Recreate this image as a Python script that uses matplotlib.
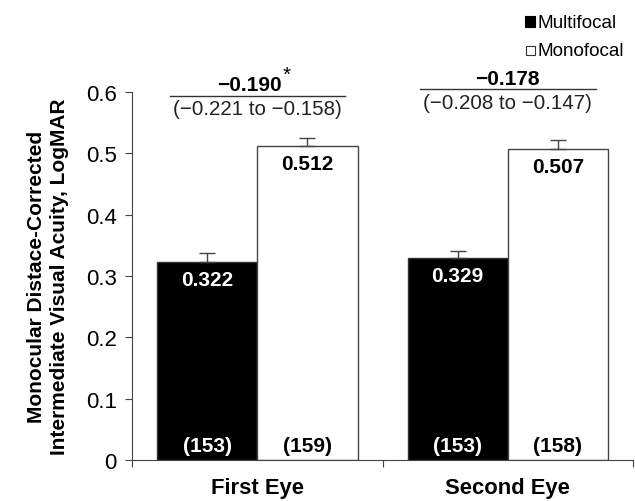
import numpy as np
import matplotlib
matplotlib.use("Agg")
import matplotlib.pyplot as plt
from matplotlib.lines import Line2D
from matplotlib.patches import Rectangle

plt.rcParams['font.family'] = ['Liberation Sans', 'DejaVu Sans']

groups = ["First Eye", "Second Eye"]
multifocal = [0.322, 0.329]
monofocal = [0.512, 0.507]
multi_err = [0.015, 0.012]
mono_err = [0.013, 0.015]
multi_n = ["(153)", "(153)"]
mono_n = ["(159)", "(158)"]
diffs = ["\u22120.190", "\u22120.178"]
diff_stars = ["*", ""]
cis = ["(\u22120.221 to \u22120.158)", "(\u22120.208 to \u22120.147)"]

fig = plt.figure(figsize=(6.35, 5.02), dpi=100)
ax = fig.add_axes([0.208, 0.082, 0.789, 0.733])

x = np.arange(len(groups))
w = 0.4
ax.bar(x - w / 2, multifocal, w, color="black", edgecolor="#333333", linewidth=1)
ax.bar(x + w / 2, monofocal, w, color="white", edgecolor="#444444", linewidth=1)
ax.errorbar(x - w / 2, multifocal, yerr=[np.zeros(2), multi_err], fmt="none",
            ecolor="#444444", elinewidth=1, capsize=6, capthick=1)
ax.errorbar(x + w / 2, monofocal, yerr=[np.zeros(2), mono_err], fmt="none",
            ecolor="#444444", elinewidth=1, capsize=6, capthick=1)

for i in range(len(groups)):
    ax.text(x[i] - w / 2, multifocal[i] - 0.028, f"{multifocal[i]:.3f}", color="white",
            fontsize=15, fontweight="bold", ha="center", va="center")
    ax.text(x[i] + w / 2, monofocal[i] - 0.028, f"{monofocal[i]:.3f}", color="black",
            fontsize=15, fontweight="bold", ha="center", va="center")
    ax.text(x[i] - w / 2, 0.024, multi_n[i], color="white",
            fontsize=15, fontweight="bold", ha="center", va="center")
    ax.text(x[i] + w / 2, 0.024, mono_n[i], color="black",
            fontsize=15, fontweight="bold", ha="center", va="center")

# difference annotations
line_y = [0.594, 0.604]
for i in range(len(groups)):
    ax.add_line(Line2D([x[i] - 0.35, x[i] + 0.35], [line_y[i], line_y[i]],
                       color="#333333", linewidth=1, clip_on=False))
    shift = 0.03 if diff_stars[i] else 0.0
    t = ax.text(x[i] - shift, line_y[i] + 0.002, diffs[i], fontsize=15, fontweight="bold",
                ha="center", va="bottom", clip_on=False)
    if diff_stars[i]:
        ax.annotate(diff_stars[i], xy=(1.0, 0.55), xycoords=t, fontsize=15,
                    ha="left", va="bottom", annotation_clip=False)
    ax.text(x[i], line_y[i] - 0.006, cis[i], fontsize=14.8, color="#222222",
            ha="center", va="top", clip_on=False)

ax.set_xlim(-0.5, 1.5)
ax.set_ylim(0, 0.6)
ax.set_yticks(np.arange(0, 0.61, 0.1))
ax.set_yticklabels(["0", "0.1", "0.2", "0.3", "0.4", "0.5", "0.6"], fontsize=16)
ax.set_xticks([-0.5, 0.5, 1.5])
ax.set_xticklabels([])
ax.set_xticks(x, minor=True)
ax.set_xticklabels(groups, minor=True, fontsize=15.8, fontweight="bold")
ax.tick_params(axis="x", which="minor", length=0, pad=12)
ax.tick_params(axis="x", which="major", length=5, color="#444444")
ax.tick_params(axis="y", length=5, color="#444444", pad=6)
for s in ["top", "right"]:
    ax.spines[s].set_visible(False)
for s in ["left", "bottom"]:
    ax.spines[s].set_color("#444444")

ax.set_ylabel("Monocular Distace-Corrected\nIntermediate Visual Acuity, LogMAR",
              fontsize=15, fontweight="bold", labelpad=12, linespacing=1.3)

# legend
fig.patches.append(Rectangle((0.826, 0.945), 0.017, 0.021, transform=fig.transFigure,
                             facecolor="black", edgecolor="black", linewidth=0.8))
fig.patches.append(Rectangle((0.828, 0.889), 0.014, 0.018, transform=fig.transFigure,
                             facecolor="white", edgecolor="#333333", linewidth=0.8))
fig.text(0.847, 0.954, "Multifocal", fontsize=13.6, ha="left", va="center")
fig.text(0.847, 0.898, "Monofocal", fontsize=13.6, ha="left", va="center")

fig.savefig("out.png", dpi=100)
